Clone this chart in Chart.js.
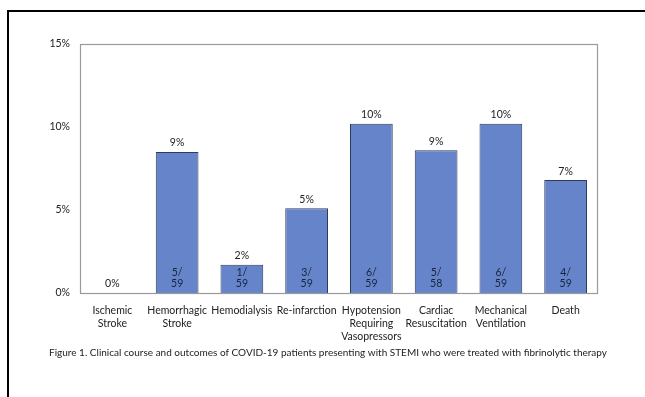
<!DOCTYPE html>
<html>
<head>
<meta charset="utf-8">
<script src="https://cdn.jsdelivr.net/npm/chart.js@4.4.1/dist/chart.umd.min.js"></script>
<style>
  html, body { margin: 0; padding: 0; background: #ffffff; }
  #wrap { width: 645px; height: 397px; position: relative; }
</style>
</head>
<body>
<div id="wrap"><canvas id="c" width="645" height="397"></canvas></div>
<script>
// Outcome categories (multi-line labels)
const categories = [
  ["Ischemic", "Stroke"],
  ["Hemorrhagic", "Stroke"],
  ["Hemodialysis"],
  ["Re-infarction"],
  ["Hypotension", "Requiring", "Vasopressors"],
  ["Cardiac", "Resuscitation"],
  ["Mechanical", "Ventilation"],
  ["Death"]
];
// Share of patients with each outcome (%)
const percentValues = [0, 8.5, 1.7, 5.1, 10.2, 8.6, 10.2, 6.8];
// Event counts and denominators shown inside the bars
const eventCounts = ["", "5/", "1/", "3/", "6/", "5/", "6/", "4/"];
const patientTotals = ["", "59", "59", "59", "59", "58", "59", "59"];
// Y axis ticks
const yTicks = [0, 5, 10, 15];

const caption = "Figure 1. Clinical course and outcomes of COVID-19 patients presenting with STEMI who were treated with fibrinolytic therapy";
const FONT = "Lato, 'Open Sans', sans-serif";

const decorations = {
  id: 'decorations',
  beforeDraw(chart) {
    const ctx = chart.ctx;
    ctx.save();
    ctx.fillStyle = '#ffffff';
    ctx.fillRect(0, 0, chart.width, chart.height);
    // page frame: top and left rules
    ctx.strokeStyle = '#000000';
    ctx.lineWidth = 2;
    ctx.beginPath();
    ctx.moveTo(645, 11);
    ctx.lineTo(8, 11);
    ctx.lineTo(8, 397);
    ctx.stroke();
    // caption
    ctx.fillStyle = '#222222';
    ctx.font = "10px " + FONT;
    ctx.textAlign = 'center';
    ctx.textBaseline = 'middle';
    ctx.fillText(caption, 328, 353);
    ctx.restore();
  },
  afterDatasetsDraw(chart) {
    const ctx = chart.ctx;
    const a = chart.chartArea;
    ctx.save();
    // plot box
    ctx.strokeStyle = '#9a9a9a';
    ctx.lineWidth = 1.2;
    ctx.strokeRect(a.left + 0.5, a.top + 0.5, a.right - a.left - 1, a.bottom - a.top);
    const meta = chart.getDatasetMeta(0);
    meta.data.forEach((bar, i) => {
      const v = percentValues[i];
      // percentage above the bar
      ctx.fillStyle = '#222222';
      ctx.font = "10.5px " + FONT;
      ctx.textAlign = 'center';
      ctx.textBaseline = 'middle';
      ctx.fillText(Math.round(v) + "%", bar.x, bar.y - 9);
      // fraction inside the bar
      if (eventCounts[i]) {
        ctx.fillStyle = '#18233f';
        ctx.font = "10.5px " + FONT;
        ctx.fillText(eventCounts[i], bar.x, a.bottom - 20);
        ctx.fillText(patientTotals[i], bar.x, a.bottom - 9);
      }
    });
    ctx.restore();
  }
};

new Chart(document.getElementById('c'), {
  type: 'bar',
  data: {
    labels: categories,
    datasets: [{
      data: percentValues,
      backgroundColor: '#6684c9',
      borderColor: '#2e3b58',
      borderWidth: 1,
      borderSkipped: 'bottom',
      categoryPercentage: 1,
      barPercentage: 0.66
    }]
  },
  options: {
    responsive: false,
    animation: false,
    devicePixelRatio: 1,
    layout: { padding: { left: 0, top: 44, right: 47, bottom: 0 } },
    plugins: { legend: { display: false }, tooltip: { enabled: false } },
    scales: {
      x: {
        grid: { display: false, drawTicks: false },
        border: { display: false },
        ticks: {
          color: '#222222',
          font: { family: FONT, size: 10.5, lineHeight: 1.25 },
          padding: 11,
          maxRotation: 0,
          autoSkip: false
        },
        afterFit(scale) { scale.height = 104; }
      },
      y: {
        min: 0,
        max: 15,
        grid: { display: false, drawTicks: false },
        border: { display: false },
        afterBuildTicks(scale) { scale.ticks = yTicks.map(v => ({ value: v })); },
        ticks: {
          color: '#222222',
          font: { family: FONT, size: 10.5 },
          padding: 10,
          callback: v => v + '%'
        },
        afterFit(scale) { scale.width = 80; }
      }
    }
  },
  plugins: [decorations]
});
</script>
</body>
</html>
